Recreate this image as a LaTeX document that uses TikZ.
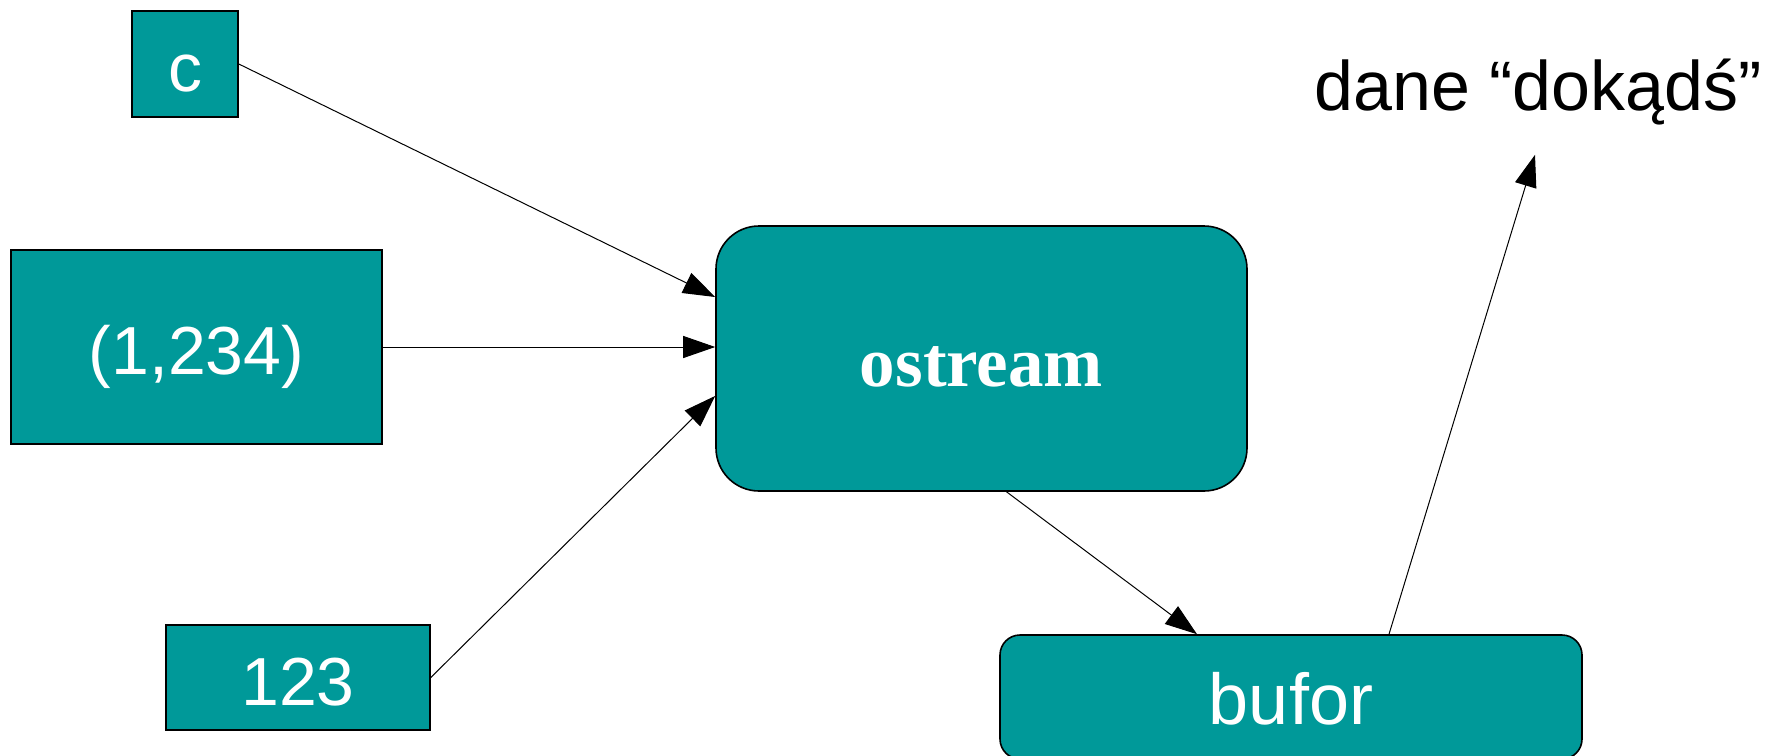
\documentclass[tikz,border=0pt]{standalone}
\usepackage{fontspec}
\setmainfont{Liberation Serif}
\setsansfont{Liberation Sans}
\usetikzlibrary{arrows.meta,positioning}
\definecolor{boxteal}{RGB}{0,153,153}

\begin{document}
\begin{tikzpicture}[x=1pt, y=-1pt,
  box/.style={draw, line width=1.6pt, fill=boxteal, text=white, align=center,
    inner sep=0pt, text height=55pt, text depth=0pt,
    font=\fontsize{68}{80}\selectfont\sffamily},
  link/.style={-{Triangle[length=32pt, width=22pt]}, line width=1pt},
  label/.style={inner sep=0pt, font=\fontsize{70}{82}\selectfont\sffamily}
]
\useasboundingbox (0,0) rectangle (1782,755);
% inputs
\node[box, minimum width=106pt, minimum height=106pt] (chr) at (185,64) {c};
\node[box, minimum width=371pt, minimum height=194pt] (pair) at (196.5,347) {(1,234)};
\node[box, minimum width=264pt, minimum height=105pt] (num) at (298,677.5) {123};
% stream and buffer
\node[box, rounded corners=43pt, minimum width=531pt, minimum height=265pt,
  font=\fontsize{71}{84}\selectfont\rmfamily\bfseries] (ostream) at (981.5,358.5) {ostream};
\node[box, rounded corners=20pt, minimum width=582pt, minimum height=124pt,
  font=\fontsize{72}{84}\selectfont\sffamily] (bufor) at (1291,697) {bufor};
\node[label, anchor=base] (dane) at (1538,110) {dane “dokądś”};
\draw[link] (chr.east) -- (ostream.167);
\draw[link] (pair.east) -- (pair.east -| ostream.west);
\draw[link] (num.east) -- (ostream.188);
\draw[link] ([xshift=25pt]ostream.south) -- ([xshift=-94pt]bufor.north);
\draw[link] ([xshift=98pt]bufor.north) -- ([xshift=-3pt, yshift=-30pt]dane.south);
\end{tikzpicture}
\end{document}
